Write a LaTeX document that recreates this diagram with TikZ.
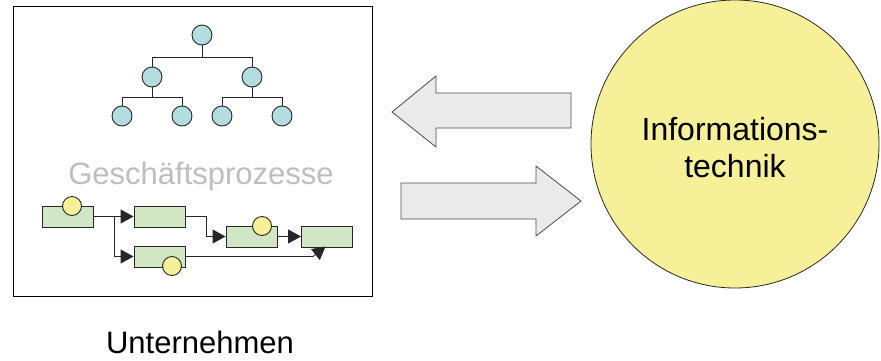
\documentclass[tikz,border=0pt]{standalone}
\usepackage{fontspec}
\setmainfont{Liberation Sans}
\usetikzlibrary{arrows.meta}
\definecolor{nodeblue}{RGB}{178,220,224}
\definecolor{procgreen}{RGB}{208,230,196}
\definecolor{evyellow}{RGB}{246,240,152}
\definecolor{arrowgray}{RGB}{234,234,234}
\definecolor{labelgray}{RGB}{190,190,190}
\tikzset{
  orgnode/.style={circle,draw=black!85,line width=0.9pt,fill=nodeblue,minimum size=20pt,inner sep=0pt},
  orgline/.style={draw=black!85,line width=0.9pt},
  procbox/.style={rectangle,draw=black!85,line width=0.9pt,fill=procgreen,minimum width=51pt,minimum height=21pt,inner sep=0pt},
  event/.style={circle,draw=black!85,line width=0.9pt,fill=evyellow,minimum size=19pt,inner sep=0pt},
  flow/.style={draw=black!85,line width=0.9pt,-{Triangle[length=13pt,width=14pt]}},
  bigarrow/.style={draw=black!70,line width=0.8pt,fill=arrowgray,line join=miter},
}
\begin{document}
\begin{tikzpicture}[x=1pt,y=-1pt]
\useasboundingbox (0,0) rectangle (881,360);
% company frame
\draw[line width=1pt,fill=white] (13,6) rectangle (372,296);
% organisation tree
\node[orgnode] (r) at (202,35) {};
\node[orgnode] (a) at (152,77) {};
\node[orgnode] (b) at (252,77) {};
\node[orgnode] (a1) at (122,116) {};
\node[orgnode] (a2) at (182,116) {};
\node[orgnode] (b1) at (222,116) {};
\node[orgnode] (b2) at (282,116) {};
\draw[orgline] (r.south) -- (202,57) -| (a.north);
\draw[orgline] (202,57) -| (b.north);
\draw[orgline] (a.south) -- (152,97) -| (a1.north);
\draw[orgline] (152,97) -| (a2.north);
\draw[orgline] (b.south) -- (252,97) -| (b1.north);
\draw[orgline] (252,97) -| (b2.north);
% caption
\node[text=labelgray,font=\fontsize{31}{35}\selectfont,anchor=base] (gp) at (201,184) {Geschäftsprozesse};
% process chain
\node[procbox] (pa) at (68,216.5) {};
\node[procbox] (pb) at (159.5,216.5) {};
\node[procbox] (pc) at (251.5,236.5) {};
\node[procbox] (pd) at (327,236.5) {};
\node[procbox] (pe) at (159.5,256.5) {};
\node[event] (ea) at (72,206) {};
\node[event] (ec) at (262,226) {};
\node[event] (ee) at (172,266) {};
\coordinate (fork) at (114,216.5);
\draw[flow] (pa.east) -- (pb.west);
\draw[flow] (fork) |- (pe.west);
\draw[flow] (pb.east) -- (206,216.5) |- (pc.west);
\draw[flow] (pc.east) -- (pd.west);
\draw[flow] (pe.east) -- (313,256.5) -- (325.5,246.5);
% exchange arrows
\draw[bigarrow] (571,93) -- (436,93) -- (436,76) -- (392,112) -- (436,147) -- (436,128) -- (571,128) -- cycle;
\draw[bigarrow] (401,183) -- (536,183) -- (536,166) -- (581,201) -- (536,236) -- (536,219) -- (401,219) -- cycle;
% information technology
\node[circle,draw=black!85,line width=0.8pt,fill=evyellow,minimum size=288pt,inner sep=0pt] (it) at (735,144) {};
\node[font=\fontsize{32}{37}\selectfont,align=center,anchor=base] (itl) at (735,177) {Informations-\\technik};
% company label
\node[font=\fontsize{31}{35}\selectfont,anchor=base] (ul) at (200,353) {Unternehmen};
\end{tikzpicture}
\end{document}
